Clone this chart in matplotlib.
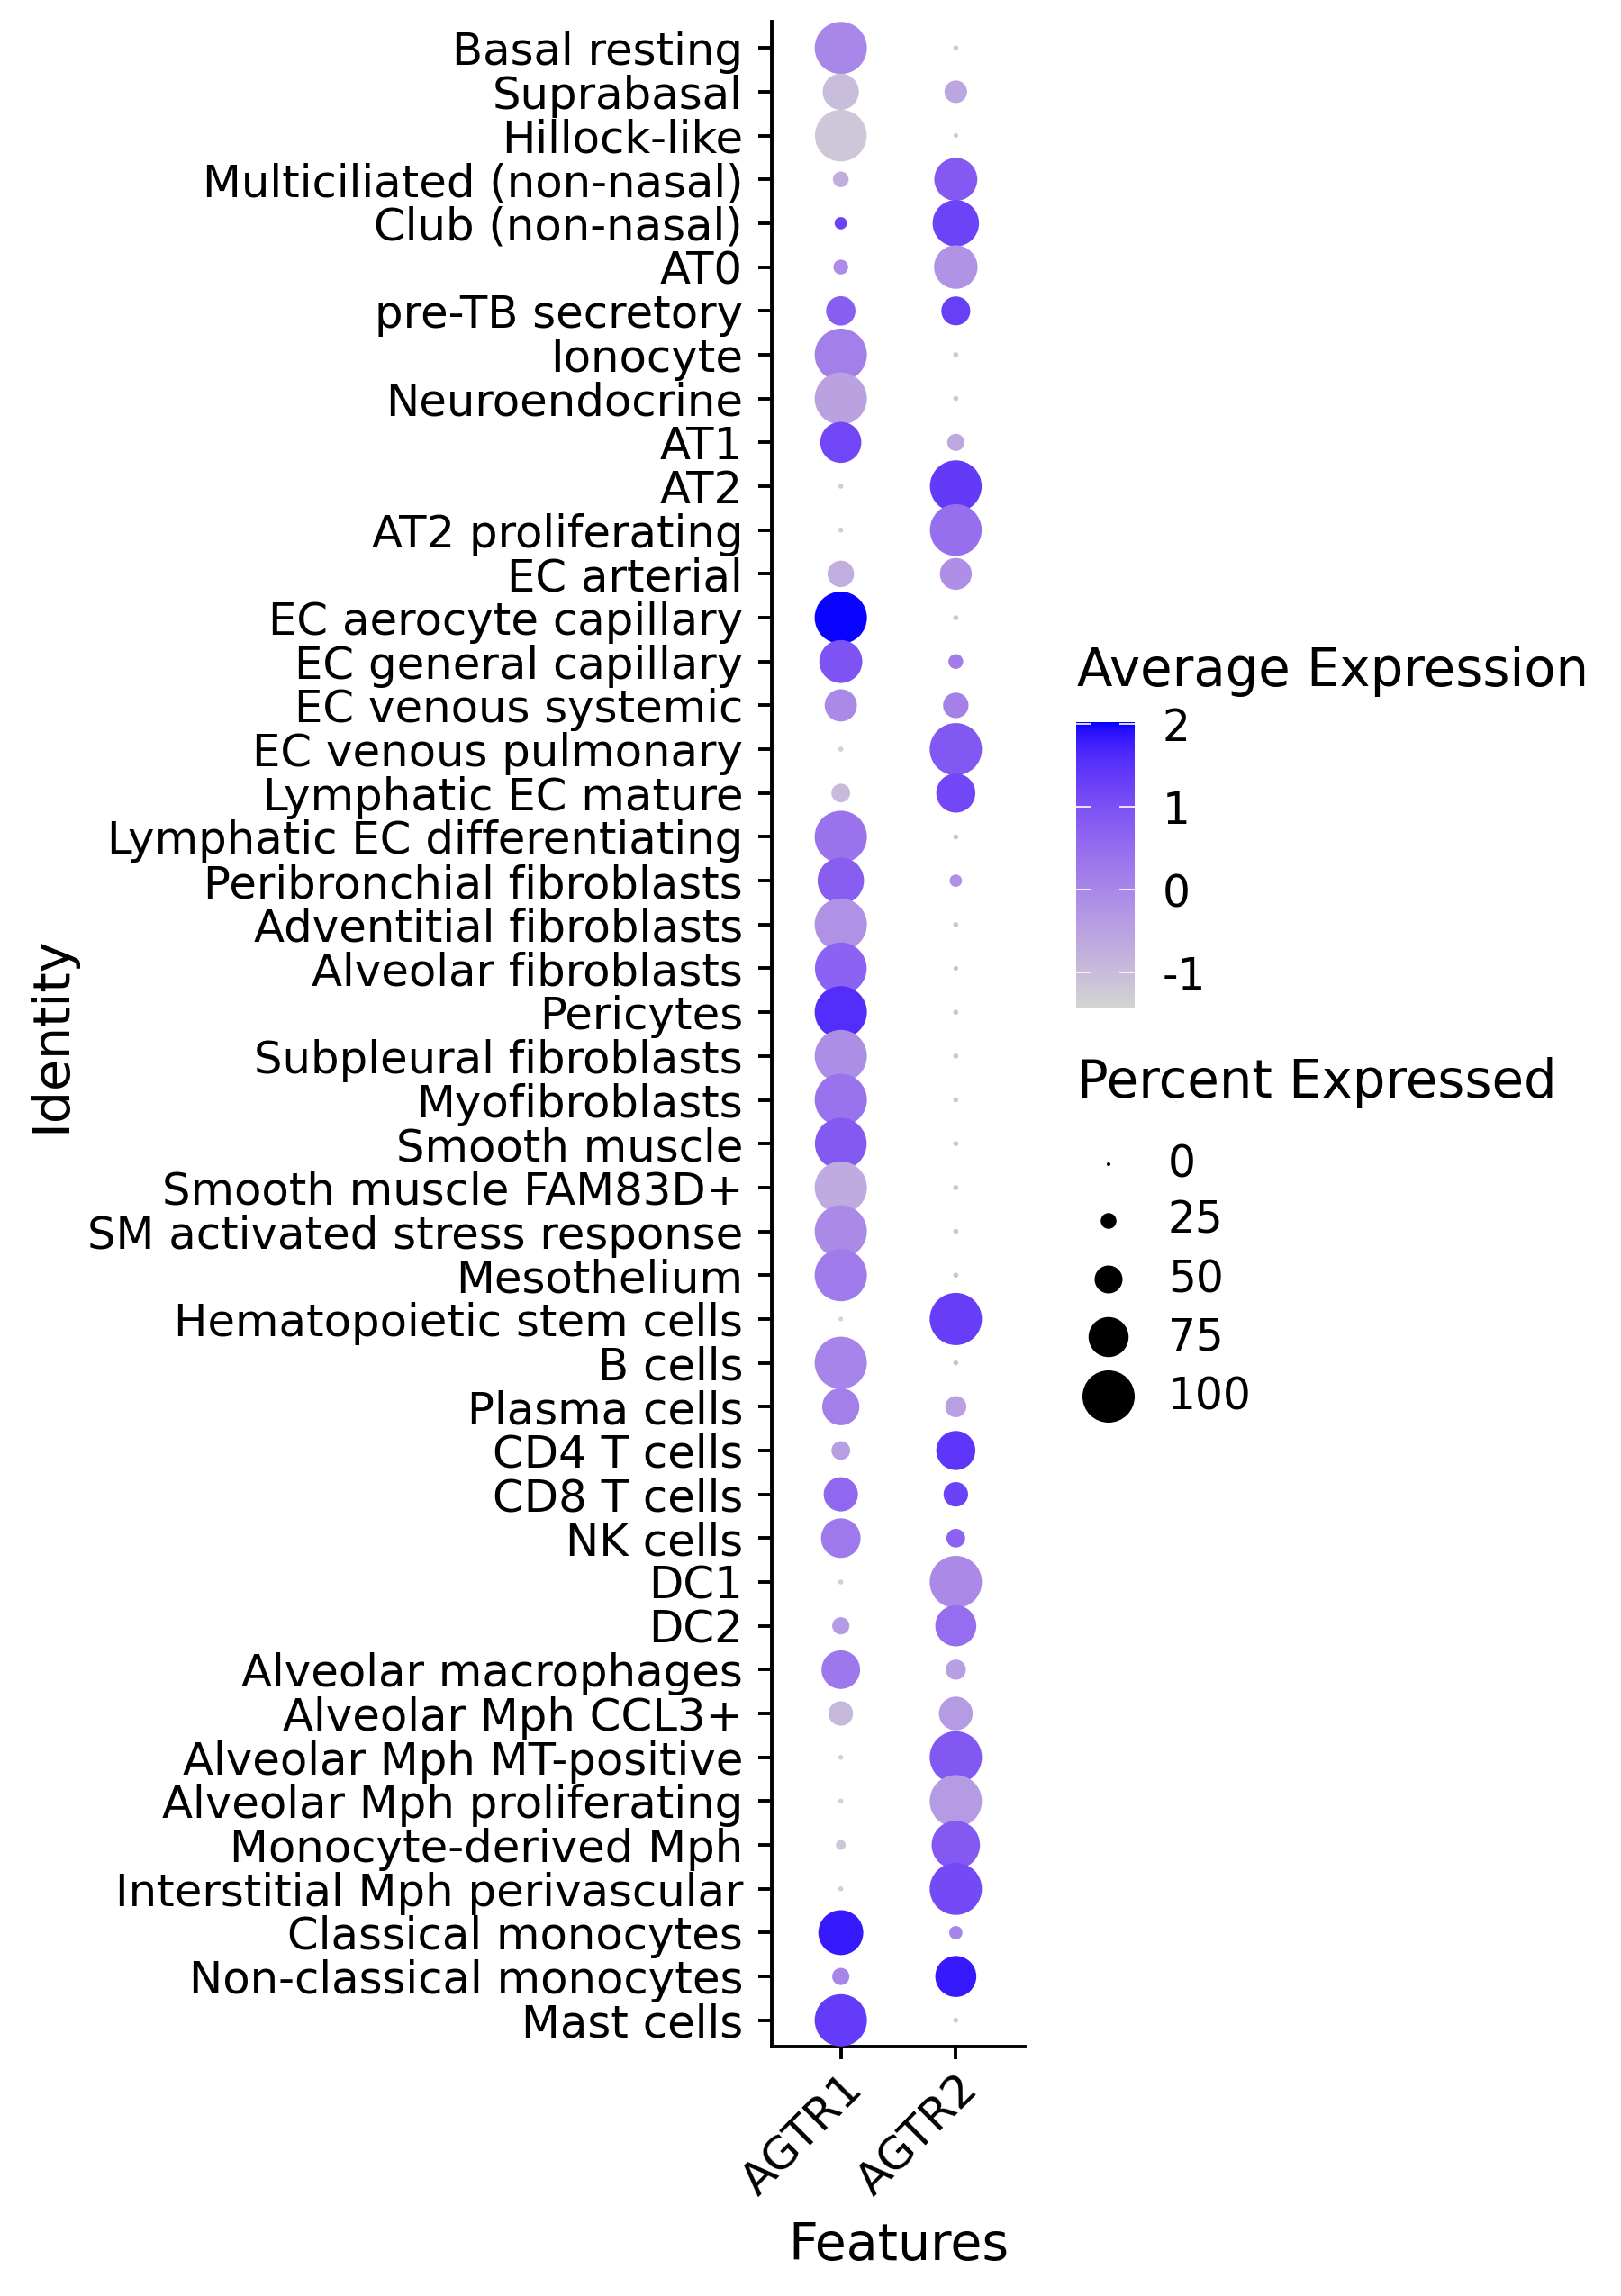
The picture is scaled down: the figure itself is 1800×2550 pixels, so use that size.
import numpy as np
import matplotlib
matplotlib.use("Agg")
import matplotlib.pyplot as plt
from matplotlib.colors import ListedColormap, Normalize

# Seurat-style DotPlot of AGTR1 / AGTR2 across lung cell types
plt.rcParams["axes.unicode_minus"] = False

identities = [
    "Basal resting", "Suprabasal", "Hillock-like", "Multiciliated (non-nasal)",
    "Club (non-nasal)", "AT0", "pre-TB secretory", "Ionocyte", "Neuroendocrine",
    "AT1", "AT2", "AT2 proliferating", "EC arterial", "EC aerocyte capillary",
    "EC general capillary", "EC venous systemic", "EC venous pulmonary",
    "Lymphatic EC mature", "Lymphatic EC differentiating",
    "Peribronchial fibroblasts", "Adventitial fibroblasts", "Alveolar fibroblasts",
    "Pericytes", "Subpleural fibroblasts", "Myofibroblasts", "Smooth muscle",
    "Smooth muscle FAM83D+", "SM activated stress response", "Mesothelium",
    "Hematopoietic stem cells", "B cells", "Plasma cells", "CD4 T cells",
    "CD8 T cells", "NK cells", "DC1", "DC2", "Alveolar macrophages",
    "Alveolar Mph CCL3+", "Alveolar Mph MT-positive", "Alveolar Mph proliferating",
    "Monocyte-derived Mph", "Interstitial Mph perivascular", "Classical monocytes",
    "Non-classical monocytes", "Mast cells",
]
features = ["AGTR1", "AGTR2"]

agtr1_pct = [100, 67, 99, 25, 18, 23, 53, 100, 100, 77, 3, 3, 47, 100, 81, 59, 3,
             31, 100, 88, 100, 99, 100, 100, 100, 99, 100, 100, 100, 2, 100, 69,
             31, 63, 74, 3, 28, 72, 43, 3, 3, 13, 3, 85, 28, 100]
agtr1_avg = [0.0, -1.0, -1.2, -0.73, 1.25, -0.08, 0.77, 0.15, -0.5, 1.18, -1.35,
             -1.35, -0.73, 2.0, 0.97, -0.05, -1.4, -0.95, 0.38, 0.77, -0.18, 0.70,
             1.57, -0.12, 0.40, 0.84, -0.67, -0.05, 0.22, -1.4, 0.05, 0.15, -0.42,
             0.6, 0.27, -1.4, -0.36, 0.31, -0.92, -1.4, -1.4, -1.2, -1.4, 1.83,
             0.03, 1.37]
agtr2_pct = [3, 39, 2, 81, 88, 82, 52, 3, 3, 28, 99, 99, 58, 3, 23, 45, 100, 73,
             3, 18, 3, 2, 3, 3, 3, 3, 3, 3, 3, 100, 3, 36, 73, 43, 31, 100, 77, 34,
             62, 100, 100, 92, 100, 20, 77, 3]
agtr2_avg = [-1.2, -0.58, -1.2, 0.84, 1.23, -0.22, 1.30, -1.2, -1.2, -0.6, 1.38,
             0.46, -0.14, -1.16, 0.19, 0.12, 0.87, 1.17, -1.16, -0.16, -1.16, -1.0,
             -1.16, -1.16, -1.16, -1.16, -1.16, -1.16, -1.16, 1.33, -1.16, -0.46,
             1.45, 1.25, 0.7, -0.05, 0.5, -0.43, -0.36, 0.87, -0.36, 0.84, 1.13,
             0.07, 1.83, -1.2]

size_breaks = [0, 25, 50, 75, 100]
color_breaks = [-1, 0, 1, 2]


# lightgrey -> blue gradient interpolated in Lab space (like ggplot)
def srgb_to_lab(rgb):
    c = np.asarray(rgb, float)
    c = np.where(c > 0.04045, ((c + 0.055) / 1.055) ** 2.4, c / 12.92)
    m = np.array([[0.4124, 0.3576, 0.1805],
                  [0.2126, 0.7152, 0.0722],
                  [0.0193, 0.1192, 0.9505]])
    xyz = m @ c / np.array([0.9505, 1.0, 1.089])
    f = np.where(xyz > 0.008856, np.cbrt(xyz), 7.787 * xyz + 16 / 116)
    return np.array([116 * f[1] - 16, 500 * (f[0] - f[1]), 200 * (f[1] - f[2])])


def lab_to_srgb(lab):
    fy = (lab[0] + 16) / 116
    f = np.array([fy + lab[1] / 500, fy, fy - lab[2] / 200])
    xyz = np.where(f ** 3 > 0.008856, f ** 3, (f - 16 / 116) / 7.787)
    xyz = xyz * np.array([0.9505, 1.0, 1.089])
    m = np.array([[3.2406, -1.5372, -0.4986],
                  [-0.9689, 1.8758, 0.0415],
                  [0.0557, -0.2040, 1.0570]])
    c = m @ xyz
    c = np.where(c > 0.0031308, 1.055 * np.abs(c) ** (1 / 2.4) - 0.055, 12.92 * c)
    return np.clip(c, 0, 1)


lab_lo = srgb_to_lab([211 / 255, 211 / 255, 211 / 255])
lab_hi = srgb_to_lab([0, 0, 1])
cmap = ListedColormap([lab_to_srgb(lab_lo + t * (lab_hi - lab_lo))
                       for t in np.linspace(0, 1, 256)])
all_avg = agtr1_avg + agtr2_avg
norm = Normalize(vmin=min(all_avg) - 0.02, vmax=max(all_avg) + 0.02)

DPI = 100


def dot_size(pct):
    d_px = 4 + 0.54 * np.asarray(pct, float)
    return (d_px * 72 / DPI) ** 2


fig = plt.figure(figsize=(18, 25.5), dpi=DPI)
ax = fig.add_axes([857 / 1800, 1 - 2273 / 2550, 281 / 1800, 2249 / 2550])

ypos = np.arange(1, len(identities) + 1)
for i, (pct, avg) in enumerate([(agtr1_pct, agtr1_avg), (agtr2_pct, agtr2_avg)]):
    ax.scatter(np.full(len(ypos), i + 1), ypos, s=dot_size(pct), c=avg,
               cmap=cmap, norm=norm, linewidths=0, zorder=3)

ax.set_xlim(0.4, 2.6)
ax.set_ylim(len(identities) + 0.6, 0.4)
ax.set_xticks([1, 2])
ax.set_xticklabels(features, rotation=45, ha="right", va="top",
                   rotation_mode="anchor", fontsize=36)
ax.set_yticks(ypos)
ax.set_yticklabels(identities, fontsize=35.8)
ax.tick_params(axis="y", length=11, width=2.8, pad=12)
ax.tick_params(axis="x", length=10, width=2.8, pad=6)
for side in ["top", "right"]:
    ax.spines[side].set_visible(False)
for side in ["left", "bottom"]:
    ax.spines[side].set_linewidth(2.8)
ax.set_xlabel("Features", fontsize=41, labelpad=14)
ax.set_ylabel("Identity", fontsize=41)
ax.yaxis.set_label_coords((84 - 857) / 281, 0.5)

# colour legend
fig.text(1196 / 1800, 1 - 745 / 2550, "Average Expression", fontsize=41.5, va="center")
cax = fig.add_axes([1195 / 1800, 1 - 1119 / 2550, 65 / 1800, 317 / 2550])
sm = plt.cm.ScalarMappable(norm=norm, cmap=cmap)
cbar = fig.colorbar(sm, cax=cax, ticks=color_breaks)
cbar.outline.set_visible(False)
cbar.ax.tick_params(direction="in", length=12, width=1.2, colors="white",
                    left=True, right=True, labelcolor="black", labelsize=35, pad=22)

# size legend
fig.text(1196 / 1800, 1 - 1203 / 2550, "Percent Expressed", fontsize=41.5, va="center")
lax = fig.add_axes([0, 0, 1, 1], facecolor="none")
lax.set_xlim(0, 1800)
lax.set_ylim(2550, 0)
lax.axis("off")
leg_y = [1293, 1356, 1421, 1485, 1551]
lax.scatter([1231] * len(size_breaks), leg_y, s=dot_size(size_breaks),
            color="black", linewidths=0)
for yy, b in zip(leg_y, size_breaks):
    lax.text(1297, yy, str(b), fontsize=35, va="center", ha="left")

fig.savefig("out.png", dpi=DPI)
